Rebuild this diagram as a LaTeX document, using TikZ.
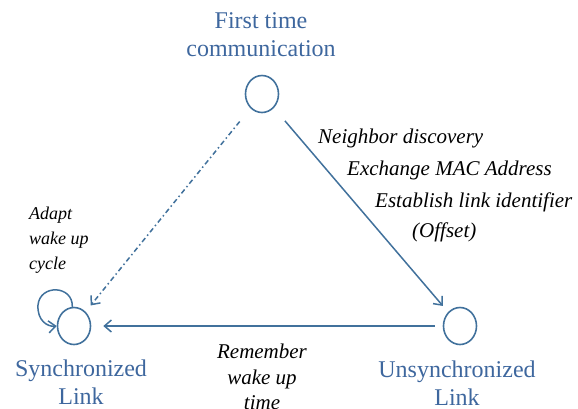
\documentclass[tikz,border=0pt]{standalone}
\usepackage{fontspec}
\setmainfont{Liberation Serif}
\usetikzlibrary{arrows.meta,shapes.geometric}

\definecolor{linkblue}{RGB}{65,113,156}
\definecolor{labelblue}{RGB}{62,103,158}

\begin{document}
\begin{tikzpicture}[x=1pt, y=-1pt,
	state/.style={ellipse, draw=linkblue, line width=1.6pt, minimum width=33pt, minimum height=37pt, inner sep=0pt},
	statelabel/.style={text=labelblue, font=\fontsize{24}{28}\selectfont, align=center, inner sep=0pt, anchor=north},
	steplabel/.style={font=\fontsize{21}{25.5}\selectfont\itshape, inner sep=0pt},
	trans/.style={draw=linkblue, line width=1.5pt, -{Straight Barb[length=7pt,width=12pt]}}]

		% picture size of the reference
		\useasboundingbox (0,0) rectangle (578,408);

		% the three states
		\node[state] (first) at (262,94) {};
		\node[state] (sync) at (74,326) {};
		\node[state] (unsync) at (460,326) {};

		% state names
		\node[statelabel] (firstname) at (261,12) {First time\\communication};
		\node[statelabel] (syncname) at (81,360) {Synchronized\\Link};
		\node[statelabel] (unsyncname) at (457,361) {Unsynchronized\\Link};

		% transitions
		\draw[trans, shorten <=17pt, shorten >=8pt] (first) -- (unsync);
		\draw[trans, shorten <=8pt, shorten >=12pt] (unsync) -- (sync);
		\draw[trans, dash pattern=on 5pt off 3pt on 1.5pt off 3pt, shorten <=17pt, shorten >=8pt] (first) -- (sync);

		% self loop on the synchronized link
		\draw[trans] (sync.95) .. controls (73,285) and (40,284) .. (38,305)
			.. controls (37,320) and (47,327) .. (sync.west);

		% what happens on the way
		\node[steplabel, anchor=base west] (neighbor) at (318,143) {Neighbor discovery};
		\node[steplabel, anchor=base west] (mac) at (347,175) {Exchange MAC Address};
		\node[steplabel, anchor=base west] (ident) at (375,207) {Establish link identifier};
		\node[steplabel, anchor=base west] (offset) at (412,237) {(Offset)};
		\node[steplabel, font=\fontsize{18}{25}\selectfont\itshape, align=left, anchor=north west] (adapt) at (29,207) {Adapt\\wake up\\cycle};
		\node[steplabel, align=center, anchor=north] (remember) at (262,344) {Remember\\wake up\\time};

	\end{tikzpicture}
\end{document}
